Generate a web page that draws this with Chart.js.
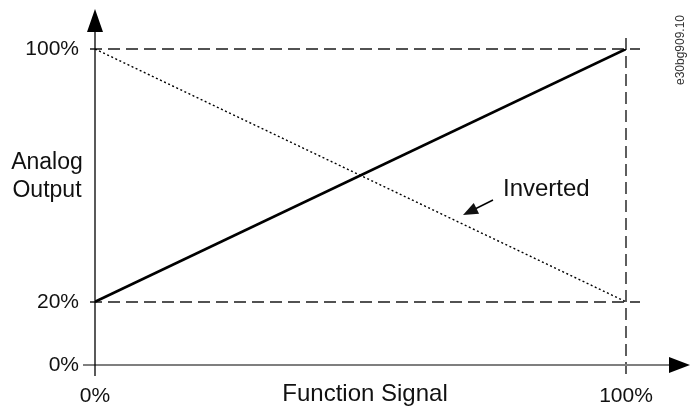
<!DOCTYPE html>
<html>
<head>
<meta charset="utf-8">
<script src="https://cdn.jsdelivr.net/npm/chart.js@4/dist/chart.umd.min.js"></script>
<style>
    html, body { margin: 0; padding: 0; background: #fff; }
    #wrap { width: 690px; height: 409px; position: relative; }
</style>
</head>
<body>
<div id="wrap"><canvas id="signal-chart"></canvas></div>
<script>
// Chart values
const signalPoints = [0, 100];        // Function Signal (%)
const directOutput = [20, 100];       // Analog Output (%)
const invertedOutput = [100, 20];     // Inverted Analog Output (%)
const yTickValues = [0, 20, 100];
const xTickValues = [0, 100];

const FONT = '"Liberation Sans", Arial, Helvetica, sans-serif';

function toPoints(xs, ys) {
    return xs.map((x, i) => ({ x: x, y: ys[i] }));
}

// Draw an arrow head with the tip at (tx, ty), pointing along (dx, dy)
function arrowHead(ctx, tx, ty, dx, dy, len, half) {
    const l = Math.hypot(dx, dy);
    const ux = dx / l, uy = dy / l;
    const bx = tx - ux * len, by = ty - uy * len;
    ctx.beginPath();
    ctx.moveTo(tx, ty);
    ctx.lineTo(bx - uy * half, by + ux * half);
    ctx.lineTo(bx + uy * half, by - ux * half);
    ctx.closePath();
    ctx.fill();
}

// Reference lines, axes with arrows and the free labels
const diagramPlugin = {
    id: 'diagram',
    beforeDatasetsDraw(chart) {
        const ctx = chart.ctx;
        const xs = chart.scales.x, ys = chart.scales.y;
        const x0 = xs.getPixelForValue(0), x100 = xs.getPixelForValue(100);
        const y0 = ys.getPixelForValue(0), y100 = ys.getPixelForValue(100);
        ctx.save();
        ctx.strokeStyle = '#1a1a1a';
        ctx.lineWidth = 1.4;
        ctx.setLineDash([12, 6]);
        [yTickValues[1], yTickValues[2]].forEach(v => {
            const y = Math.round(ys.getPixelForValue(v));
            ctx.beginPath();
            ctx.moveTo(x0 - 5, y);
            ctx.lineTo(x100 + 14, y);
            ctx.stroke();
        });
        const vx = Math.round(x100);
        ctx.beginPath();
        ctx.moveTo(vx, y100 - 11);
        ctx.lineTo(vx, y0 + 11);
        ctx.stroke();
        ctx.restore();
    },
    afterDraw(chart) {
        const ctx = chart.ctx;
        const xs = chart.scales.x, ys = chart.scales.y;
        const x0 = xs.getPixelForValue(0);
        const y0 = ys.getPixelForValue(0);
        ctx.save();

        // x axis (gray) with arrow
        ctx.strokeStyle = '#7f7f7f';
        ctx.lineWidth = 2;
        ctx.beginPath();
        ctx.moveTo(x0 - 12, y0);
        ctx.lineTo(672, y0);
        ctx.stroke();
        ctx.fillStyle = '#000';
        arrowHead(ctx, 690, y0, 1, 0, 21, 8);

        // y axis with arrow
        ctx.strokeStyle = '#000';
        ctx.lineWidth = 1.3;
        ctx.beginPath();
        ctx.moveTo(x0, y0 + 11);
        ctx.lineTo(x0, 30);
        ctx.stroke();
        arrowHead(ctx, x0, 9, 0, -1, 23, 8);

        // axis titles
        ctx.fillStyle = '#111';
        ctx.font = '23px ' + FONT;
        ctx.textAlign = 'center';
        ctx.textBaseline = 'middle';
        ctx.fillText('Analog', 47, 163);
        ctx.fillText('Output', 47, 191);
        ctx.font = '24px ' + FONT;
        ctx.fillText('Function Signal', 365, 394);

        // Inverted callout
        ctx.textAlign = 'left';
        ctx.fillText('Inverted', 503, 189);
        ctx.strokeStyle = '#000';
        ctx.lineWidth = 1.5;
        ctx.beginPath();
        ctx.moveTo(493, 200);
        ctx.lineTo(472, 210.5);
        ctx.stroke();
        arrowHead(ctx, 463, 215, -30, 15, 15, 6);

        // drawing code
        ctx.translate(681, 50);
        ctx.rotate(-Math.PI / 2);
        ctx.font = '12px ' + FONT;
        ctx.fillStyle = '#333';
        ctx.textAlign = 'center';
        ctx.fillText('e30bg909.10', 0, 0);
        ctx.restore();
    }
};

const ctx = document.getElementById('signal-chart');
new Chart(ctx, {
    type: 'line',
    data: {
        datasets: [{
            label: 'Normal',
            data: toPoints(signalPoints, directOutput),
            borderColor: '#000',
            borderWidth: 2.6,
            pointRadius: 0,
            fill: false
        }, {
            label: 'Inverted',
            data: toPoints(signalPoints, invertedOutput),
            borderColor: '#000',
            borderWidth: 1.4,
            borderDash: [2, 2.5],
            pointRadius: 0,
            fill: false
        }]
    },
    options: {
        responsive: true,
        maintainAspectRatio: false,
        animation: false,
        events: [],
        layout: {
            padding: { top: 49, right: 64, left: 0, bottom: 0 }
        },
        plugins: {
            legend: { display: false },
            tooltip: { enabled: false }
        },
        scales: {
            x: {
                type: 'linear',
                min: 0,
                max: 100,
                afterBuildTicks: axis => { axis.ticks = xTickValues.map(v => ({ value: v })); },
                afterFit: axis => { axis.height = 44; },
                grid: { display: false },
                border: { display: false },
                ticks: {
                    callback: v => v + '%',
                    color: '#111',
                    padding: 11,
                    maxRotation: 0,
                    font: { family: FONT, size: 21 }
                }
            },
            y: {
                type: 'linear',
                min: 0,
                max: 100,
                afterBuildTicks: axis => { axis.ticks = yTickValues.map(v => ({ value: v })); },
                afterFit: axis => { axis.width = 95; },
                grid: { display: false },
                border: { display: false },
                ticks: {
                    callback: v => v + '%',
                    color: '#111',
                    padding: 8,
                    font: { family: FONT, size: 21 }
                }
            }
        }
    },
    plugins: [diagramPlugin]
});
</script>
</body>
</html>
